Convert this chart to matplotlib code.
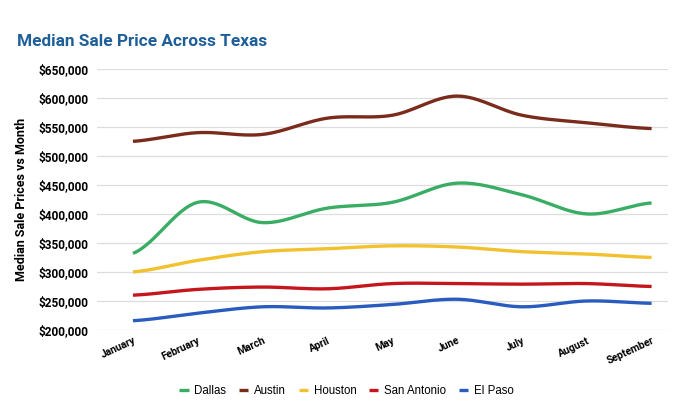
import numpy as np
import matplotlib.pyplot as plt
from matplotlib.ticker import FuncFormatter

months = ["January", "February", "March", "April", "May", "June", "July", "August", "September"]
dallas = [332000, 420000, 385000, 410000, 420000, 453000, 433000, 400000, 419000]
austin = [525000, 540000, 537000, 565000, 570000, 603000, 570000, 557000, 547000]
houston = [300000, 320000, 335000, 340000, 345000, 343000, 335000, 331000, 325000]
san_antonio = [260000, 270000, 274000, 271000, 280000, 280000, 279000, 280000, 275000]
el_paso = [216000, 229000, 240000, 238000, 244000, 253000, 240000, 250000, 246000]

series = [
    ("Dallas", dallas, "#3aad64"),
    ("Austin", austin, "#7b2b1c"),
    ("Houston", houston, "#f2c12e"),
    ("San Antonio", san_antonio, "#c4161c"),
    ("El Paso", el_paso, "#2a5cbf"),
]


def smooth(y, n=30):
    # catmull-rom through the points, just for the curved look
    y = np.asarray(y, dtype=float)
    p = np.concatenate([[y[0]], y, [y[-1]]])
    xs, ys = [], []
    t = np.linspace(0, 1, n, endpoint=False)
    for i in range(len(y) - 1):
        p0, p1, p2, p3 = p[i], p[i + 1], p[i + 2], p[i + 3]
        seg = 0.5 * ((2 * p1) + (-p0 + p2) * t + (2 * p0 - 5 * p1 + 4 * p2 - p3) * t ** 2
                     + (-p0 + 3 * p1 - 3 * p2 + p3) * t ** 3)
        xs.append(i + t)
        ys.append(seg)
    xs.append([len(y) - 1])
    ys.append([y[-1]])
    return np.concatenate(xs), np.concatenate(ys)


plt.rcParams['font.family'] = ['Roboto', 'DejaVu Sans']

fig = plt.figure(figsize=(7, 4.12), dpi=100)
ax = fig.add_axes([0.139, 0.199, 0.815, 0.634])

for name, vals, color in series:
    xs, ys = smooth(vals)
    ax.plot(xs, ys, color=color, lw=2.4, label=name, solid_capstyle='butt')

ax.set_xlim(-0.55, 8.25)
ax.set_ylim(200000, 650000)
ax.set_yticks(np.arange(200000, 650001, 50000))
ax.yaxis.set_major_formatter(FuncFormatter(lambda v, p: "${:,.0f}".format(v)))
ax.set_xticks(range(len(months)))
ax.set_xticklabels(months, rotation=25, ha='right', rotation_mode='anchor', fontsize=7.5, fontweight='bold')
for lbl in ax.get_yticklabels():
    lbl.set_fontweight('bold')
    lbl.set_fontsize(8.6)

ax.grid(axis='y', color='#dddddd', lw=0.9)
ax.set_axisbelow(True)
for s in ax.spines.values():
    s.set_visible(False)
ax.tick_params(length=0)
ax.tick_params(axis='y', pad=6)
ax.tick_params(axis='x', pad=4)

ax.set_ylabel("Median Sale Prices vs Month", fontsize=9, fontweight='bold', labelpad=8)

fig.text(0.024, 0.888, "Median Sale Price Across Texas", fontsize=12.4, fontweight='bold', color='#1f5f99')

fig.legend(loc='center', bbox_to_anchor=(0.495, 0.05), ncol=5, frameon=False,
           prop={'family': ['Liberation Sans', 'DejaVu Sans'], 'size': 8.3},
           handlelength=0.8, handletextpad=0.5, columnspacing=1.1)

fig.savefig("out.png", dpi=100)
